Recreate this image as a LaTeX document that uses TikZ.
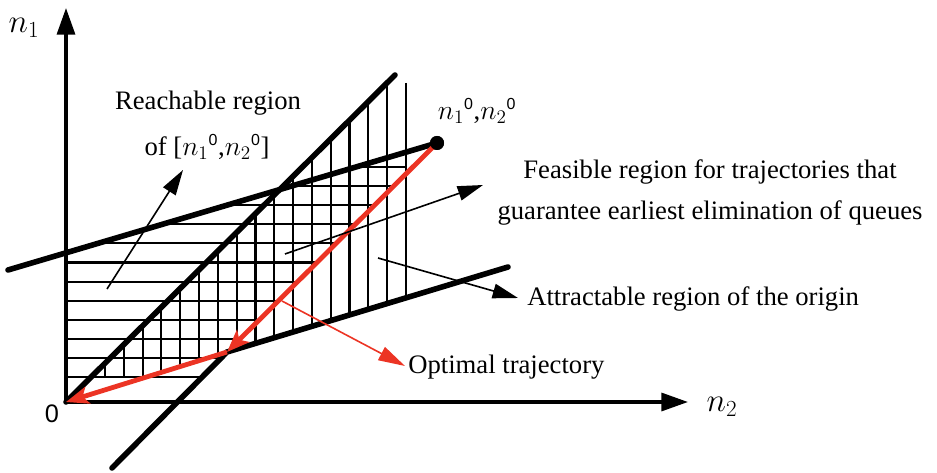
\documentclass[tikz,border=0pt]{standalone}
\usepackage{fontspec}
\setmainfont{Liberation Serif}
\setsansfont{Liberation Sans}
\usetikzlibrary{arrows.meta}
\definecolor{myred}{RGB}{236,52,36}
\newcommand{\supz}{{}^{\mbox{\fontsize{12}{12}\sffamily 0}}}
\begin{document}
\begin{tikzpicture}[x=0.75pt,y=-0.75pt,
  thickline/.style={line width=4.2pt, line cap=round},
  hatch/.style={line width=1.6pt},
  axis/.style={line width=2.5pt, -{Triangle[length=20pt,width=13.5pt]}},
  note/.style={line width=1.2pt, -{Triangle[length=19pt,width=11pt]}},
  rednote/.style={myred, line width=1.2pt, -{Triangle[length=20pt,width=11pt]}},
  traj/.style={myred, line width=3.6pt, -{Stealth[length=17pt,width=13pt,inset=4pt]}},
  lbl/.style={font=\fontsize{20}{24}\selectfont, inner sep=0pt}]
\useasboundingbox (0,0) rectangle (937,473);
% hatching: horizontal rows (reachable region)
\foreach \k in {0,...,11}{
  \pgfmathsetmacro{\yy}{167+19.1*\k}
  \pgfmathsetmacro{\xl}{max(66,8+(270-\yy)/0.2974)}
  \pgfmathsetmacro{\xr}{min(406,437-1.005*(\yy-143))}
  \draw[hatch] (\xl,\yy) -- (\xr,\yy);
}
% hatching: vertical columns (attractable region)
\foreach \j in {0,...,16}{
  \pgfmathsetmacro{\xx}{105+18.81*\j}
  \pgfmathsetmacro{\yt}{max(83,402-0.994*(\xx-66))}
  \pgfmathsetmacro{\yb}{\xx<228 ? min(377,353+(226-\xx)*0.306) : 352-0.3036*(\xx-228)}
  \draw[hatch] (\xx,\yt) -- (\xx,\yb);
}
% key points
\coordinate (O) at (66,402);
\coordinate (K) at (227,352);
\coordinate (L1a) at (8,270);
\coordinate (L2b) at (395,75);
\coordinate (L3a) at (112,468);
\coordinate (L4b) at (508,267);
\coordinate (Ytip) at (66,8);
\coordinate (Xtip) at (688,402);
% boundary lines
\draw[thickline] (L1a) -- (437,143);
\draw[thickline] (O) -- (L2b);
\draw[thickline] (L3a) -- (K) -- (L4b);
% axes
\draw[axis] (O) -- (Ytip);
\draw[axis] (O) -- (Xtip);
% optimal trajectory
\node[circle, fill, inner sep=0pt, minimum size=10.5pt] (P) at (437,143) {};
\draw[traj] (P.center) -- (K);
\draw[traj] (K) -- (O);
\node[circle, fill, inner sep=0pt, minimum size=10.5pt] at (P) {};
% labels
\node[lbl, font=\fontsize{23}{26}\selectfont] (n1lbl) at (24,28) {$n_1$};
\node[lbl, font=\fontsize{23}{26}\selectfont] (n2lbl) at (722,407) {$n_2$};
\node[lbl, font=\sffamily\fontsize{19}{22}\selectfont] (zero) at (52,414) {0};
\node[lbl] (p0lbl) at (477,111) {$n_1\supz$,$n_2\supz$};
\node[lbl] (reach1) at (208,103) {Reachable region};
\node[lbl] (reach2) at (207,147) {of [$n_1\supz$,$n_2\supz$]};
\node[lbl] (feas1) at (710,172) {Feasible region for trajectories that};
\node[lbl] (feas2) at (710,213) {guarantee earliest elimination of queues};
\node[lbl, anchor=west] (attr) at (527,299) {Attractable region of the origin};
\node[lbl, anchor=west] (opt) at (408,367) {Optimal trajectory};
% annotation arrows
\coordinate (rA) at (107,289); \coordinate (rB) at (183,170);
\coordinate (fA) at (285,254); \coordinate (fB) at (483,185);
\coordinate (aA) at (378,258); \coordinate (aB) at (518,298);
\coordinate (oA) at (282,301); \coordinate (oB) at (405,366);
\draw[note] (rA) -- (rB);
\draw[note] (fA) -- (fB);
\draw[note] (aA) -- (aB);
\draw[rednote] (oA) -- (oB);
\end{tikzpicture}
\end{document}
